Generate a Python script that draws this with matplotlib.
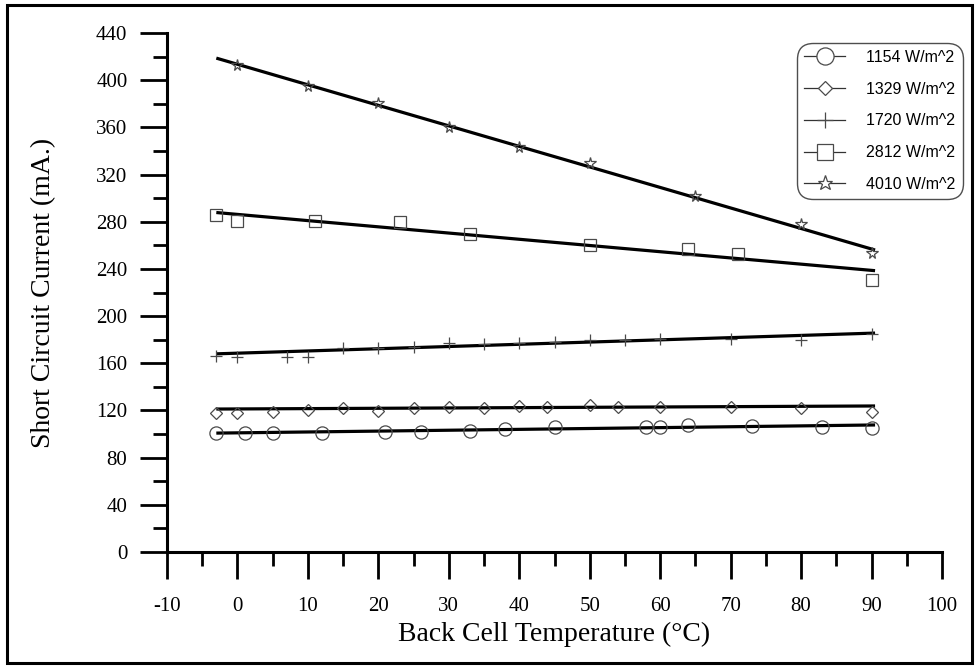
import matplotlib
matplotlib.use("Agg")
import matplotlib.pyplot as plt
from matplotlib.lines import Line2D
from matplotlib.patches import Rectangle
from matplotlib.ticker import MultipleLocator

# ---- data ----
labels = ["1154 W/m^2", "1329 W/m^2", "1720 W/m^2", "2812 W/m^2", "4010 W/m^2"]

temp_1154 = [-3, 1, 5, 12, 21, 26, 33, 38, 45, 58, 60, 64, 73, 83, 90]
cur_1154 = [101, 101, 101, 101, 102, 102, 103, 104, 106, 106, 106, 107.5, 107, 106, 105]

temp_1329 = [-3, 0, 5, 10, 15, 20, 25, 30, 35, 40, 44, 50, 54, 60, 70, 80, 90]
cur_1329 = [117.5, 117.5, 118.5, 120, 122, 119.5, 122, 123, 122, 123.5, 123, 124.5, 123, 123, 123, 122, 118.5]

temp_1720 = [-3, 0, 7, 10, 15, 20, 25, 30, 35, 40, 45, 50, 55, 60, 70, 80, 90]
cur_1720 = [166, 165, 165, 165, 173, 173, 173.5, 177, 176, 177, 178, 179.5, 179.5, 180.5, 181, 179.5, 184.5]

temp_2812 = [-3, 0, 11, 23, 33, 50, 64, 71, 90]
cur_2812 = [285.5, 280.5, 280.5, 280, 269.5, 260, 257, 252.5, 231]

temp_4010 = [0, 10, 20, 30, 40, 50, 65, 80, 90]
cur_4010 = [413, 395, 381, 360, 343.5, 330, 302, 278, 253.5]

# fitted (regression) line end points
fit_temp = [-3, 90.5]
fit_1154 = [100.8, 107.7]
fit_1329 = [121.2, 123.8]
fit_1720 = [168, 185.6]
fit_2812 = [287.8, 238.5]
fit_4010 = [418.7, 256]

x_ticks = list(range(-10, 101, 10))
y_ticks = list(range(0, 441, 40))

# ---- plotting ----
plt.rcParams["axes.unicode_minus"] = False
serif = ["Liberation Serif", "DejaVu Serif"]
fig = plt.figure(figsize=(9.8, 6.66), dpi=100)
ax = fig.add_axes([167 / 980, 1 - 552 / 666, (942 - 167) / 980, (552 - 33) / 666])

series = [
    (temp_1154, cur_1154, fit_1154, "o", 9.5),
    (temp_1329, cur_1329, fit_1329, "D", 5.8),
    (temp_1720, cur_1720, fit_1720, "+", 9.0),
    (temp_2812, cur_2812, fit_2812, "s", 9.0),
    (temp_4010, cur_4010, fit_4010, "*", 8.5),
]
mec = "#4a4a4a"
handles = []
for (tx, cy, fy, mk, ms), lab in zip(series, labels):
    ax.plot(fit_temp, fy, color="black", lw=2.3, solid_capstyle="butt", zorder=2)
    ax.plot(tx, cy, linestyle="none", marker=mk, markersize=ms,
            markerfacecolor="none", markeredgecolor=mec,
            markeredgewidth=0.9, zorder=3)
    handles.append(Line2D([], [], color="#333333", lw=0.9, marker=mk,
                          markersize=ms * 1.3, markerfacecolor="white",
                          markeredgecolor=mec, markeredgewidth=0.9, label=lab))

ax.set_xlim(-10, 100)
ax.set_ylim(0, 440)
ax.set_xticks(x_ticks)
ax.set_yticks(y_ticks)
ax.xaxis.set_minor_locator(MultipleLocator(5))
ax.yaxis.set_minor_locator(MultipleLocator(20))

for s in ["top", "right"]:
    ax.spines[s].set_visible(False)
for s in ["left", "bottom"]:
    ax.spines[s].set_linewidth(2.2)
    ax.spines[s].set_color("black")

ax.tick_params(axis="both", which="major", direction="out", length=19.5,
               width=2.0, color="black")
ax.tick_params(axis="both", which="minor", direction="out", length=10,
               width=2.0, color="black")
ax.tick_params(axis="x", which="major", pad=13)
ax.tick_params(axis="y", which="major", pad=9)
for lbl in ax.get_xticklabels() + ax.get_yticklabels():
    lbl.set_family(serif)
    lbl.set_fontsize(15)

ax.set_xlabel("Back Cell Temperature (\u00b0C)", family=serif, fontsize=20)
ax.xaxis.set_label_coords(0.5, -0.135)
ax.set_ylabel("Short Circuit Current (mA.)", family=serif, fontsize=20)
ax.yaxis.set_label_coords(-0.143, 0.5)

leg = fig.legend(handles=handles, loc="upper left",
                 bbox_to_anchor=(799 / 980, 1 - 45 / 666),
                 frameon=True, fancybox=True, edgecolor="#222222",
                 handlelength=2.6, handletextpad=1.3, labelspacing=1.05,
                 borderpad=0.3, borderaxespad=0.0,
                 prop={"family": ["Liberation Sans", "DejaVu Sans"], "size": 11.5})
leg.get_frame().set_linewidth(1.0)
leg.get_frame().set_boxstyle("round", pad=0.15, rounding_size=1.0)

# border round the whole picture
fig.patches.append(Rectangle((7 / 980, 3 / 666), (972 - 7) / 980, (661 - 3) / 666,
                             transform=fig.transFigure, fill=False,
                             edgecolor="black", linewidth=2.2))

fig.savefig("out.png", dpi=100)
